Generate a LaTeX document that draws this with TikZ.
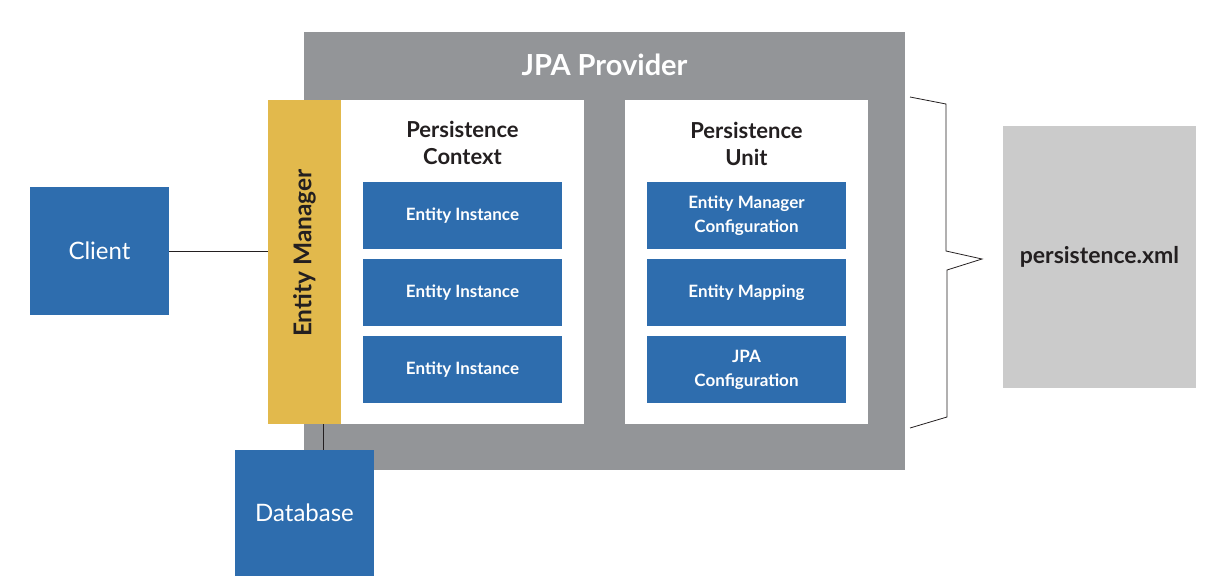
\documentclass[tikz,border=0pt]{standalone}
\usepackage{fontspec}
\setmainfont{Lato}
\definecolor{provgray}{HTML}{939598}
\definecolor{emyellow}{HTML}{E2B94C}
\definecolor{boxblue}{HTML}{2E6DAE}
\definecolor{xmlgray}{HTML}{CBCBCB}
\definecolor{txtdark}{HTML}{231F20}
\begin{document}
\begin{tikzpicture}[x=1pt, y=-1pt,
    bluebox/.style={fill=boxblue, text=white, minimum width=199pt, minimum height=67pt,
                    inner sep=0pt, align=center, font=\fontsize{17}{24}\selectfont\bfseries},
    panel/.style={fill=white, minimum width=243pt, minimum height=324pt, inner sep=0pt},
    title/.style={text=txtdark, align=center, font=\fontsize{22}{27}\selectfont\bfseries},
    outer/.style={fill=boxblue, text=white, inner sep=0pt, font=\fontsize{24}{28}\selectfont}]
                    \useasboundingbox (0,0) rectangle (1205,576);

                    \coordinate (Prov) at (604.5, 251);
                    \coordinate (Ctx) at (462.5, 262);
                    \coordinate (Unit) at (746.5, 262);

                    \node[fill=provgray, minimum width=601pt, minimum height=438pt, inner sep=0pt] (provider) at (Prov) {};
                    \node[text=white, font=\fontsize{29}{33}\selectfont\bfseries] (provtitle) at (604.5, 65) {JPA Provider};

                    \node[panel] (context) at (Ctx) {};
                    \node[panel] (unit) at (Unit) {};
                    \node[fill=emyellow, minimum width=73pt, minimum height=324pt, inner sep=0pt] (em) at (304.5, 262) {};
                    \node[rotate=90, text=txtdark, font=\fontsize{24.5}{28}\selectfont\bfseries] (emlabel) at (304.5, 253) {Entity Manager};

                    \node[title] (ctxtitle) at (462.5, 143) {Persistence\\Context};
                    \node[title] (unittitle) at (746.5, 144) {Persistence\\Unit};

                    \node[bluebox] (inst1) at (462.5, 215.5) {Entity Instance};
                    \node[bluebox] (inst2) at (462.5, 292.5) {Entity Instance};
                    \node[bluebox] (inst3) at (462.5, 369.5) {Entity Instance};

                    \node[bluebox] (emconf) at (746.5, 215.5) {Entity Manager\\Configuration};
                    \node[bluebox] (mapping) at (746.5, 292.5) {Entity Mapping};
                    \node[bluebox] (jpaconf) at (746.5, 369.5) {JPA\\Configuration};

                    \node[outer, minimum width=139pt, minimum height=128pt] (client) at (99.5, 251) {Client};
                    \node[outer, minimum width=139pt, minimum height=126pt] (db) at (304.5, 513) {Database};

                    \draw[thick, txtdark] (client.east) -- (client.east -| em.west);
                    \draw[thick, txtdark] ([xshift=18.5pt]em.south) -- ([xshift=18.5pt]db.north);

                    \node[fill=xmlgray, text=txtdark, minimum width=193pt, minimum height=262pt, inner sep=0pt,
                          font=\fontsize{23}{27}\selectfont\bfseries] (xml) at (1099.5, 257) {persistence.xml};

                    % brace
                    \coordinate (B0) at (910, 97);
                    \coordinate (B1) at (946, 104);
                    \coordinate (B2) at (946, 251);
                    \coordinate (B3) at (982, 259);
                    \coordinate (B4) at (947, 270);
                    \coordinate (B5) at (947, 417);
                    \coordinate (B6) at (910, 428);
                    \draw[thick, txtdark, line join=miter] (B0) -- (B1) -- (B2) -- (B3) -- (B4) -- (B5) -- (B6);

                \end{tikzpicture}
\end{document}
